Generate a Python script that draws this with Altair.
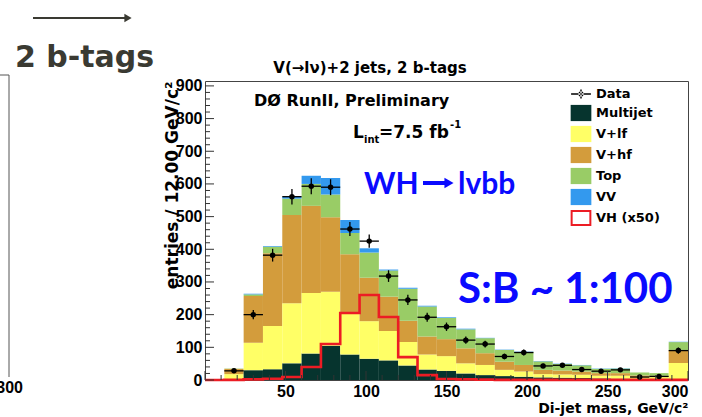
import altair as alt
import pandas as pd

# ---------------- data ----------------
bin_lo = [0, 12, 24, 36, 48, 60, 72, 84, 96, 108, 120, 132, 144, 156, 168,
          180, 192, 204, 216, 228, 240, 252, 264, 276, 288]
BIN_W = 12
multijet = [0, 0, 30, 33, 51, 81, 105, 78, 65, 60, 44, 32, 28, 20, 15, 12, 10, 8, 7, 6, 5, 4, 3, 3, 3]
v_lf     = [0, 18, 84, 132, 184, 185, 165, 125, 115, 90, 72, 46, 45, 31, 31, 19, 16, 10, 10, 10, 8, 9, 6, 6, 49]
v_hf     = [0, 16, 143, 223, 270, 267, 228, 182, 133, 105, 65, 55, 52, 46, 36, 25, 20, 13, 12, 10, 8, 8, 5, 4, 40]
top      = [0, 1, 5, 20, 50, 67, 70, 65, 77, 80, 98, 92, 65, 58, 46, 36, 40, 26, 20, 19, 13, 14, 9, 8, 24]
vv       = [0, 0, 2, 2, 6, 25, 50, 40, 13, 3, 3, 2, 2, 2, 1, 1, 1, 1, 1, 1, 1, 1, 0, 0, 1]
data_obs = [None, 28, 200, 382, 561, 593, 590, 462, 425, 318, 245, 192, 163, 122, 110, 72, 84, 43, 45, 32, 27, 31, 9, 11, 90]
vh_x50   = [0, 0.5, 2, 4, 9, 40, 110, 205, 260, 193, 70, 15, 3, 2, 1, 0.5, 0.5, 0.5, 0.5, 0.5, 0.5, 0.5, 0.5, 0.5, 0.5]

components = ["Multijet", "V+lf", "V+hf", "Top", "VV"]
comp_colors = ["#06342e", "#ffff66", "#d39c3c", "#99cc66", "#3399ee"]
VH_COLOR = "#ec1c24"
BLUE = "#0a0aff"

legend_names = ["Data"] + components + ["VH (x50)"]
legend_colors = ["#000000"] + comp_colors + [VH_COLOR]
RECT = "M-1.15,-0.9H1.15V0.9H-1.15Z"
HOLLOW = "M-1.15,-0.9H1.15V0.9H-1.15Z M-0.93,-0.68V0.68H0.93V-0.68Z"
CROSS = ("M-1.1,-0.08H1.1V0.08H-1.1Z M-0.08,-0.5H0.08V0.5H-0.08Z "
         "M-0.3,0A0.3,0.3,0,1,0,0.3,0A0.3,0.3,0,1,0,-0.3,0Z")
legend_shapes = [CROSS] + [RECT] * 5 + [HOLLOW]

x_major = [0, 50, 100, 150, 200, 250, 300]
x_minor = [10, 20, 30, 40, 60, 70, 80, 90, 110, 120, 130, 140, 160, 170, 180, 190,
           210, 220, 230, 240, 260, 270, 280, 290]
x_labels = [50, 100, 150, 200, 250, 300]
y_major = [0, 100, 200, 300, 400, 500, 600, 700, 800, 900]
y_minor = [20, 40, 60, 80, 120, 140, 160, 180, 220, 240, 260, 280, 320, 340, 360, 380,
           420, 440, 460, 480, 520, 540, 560, 580, 620, 640, 660, 680, 720, 740, 760, 780,
           820, 840, 860, 880]

# ---------------- tables ----------------
rows = []
for i, lo in enumerate(bin_lo):
    base = 0
    for name, vals in zip(components, [multijet, v_lf, v_hf, top, vv]):
        v = vals[i]
        if v > 0:
            rows.append({"lo": lo, "hi": lo + BIN_W, "component": name, "y0": base, "y1": base + v})
        base += v
df_stack = pd.DataFrame(rows)

drows = []
for lo, n in zip(bin_lo, data_obs):
    if n is None:
        continue
    e = n ** 0.5
    drows.append({"lo": lo, "hi": lo + BIN_W, "c": lo + BIN_W / 2, "n": n, "elo": n - e, "ehi": n + e})
df_data = pd.DataFrame(drows)

df_vh = pd.DataFrame({"x": bin_lo + [bin_lo[-1] + BIN_W], "y": vh_x50 + [vh_x50[-1]]})
df_leg = pd.DataFrame({"series": legend_names})
one = pd.DataFrame({"k": [0]})

# ---------------- scales / axes ----------------
LBL = "Liberation Sans"
TXT = "DejaVu Sans"
xs = alt.Scale(domain=[0, 300], nice=False, zero=False)
ys = alt.Scale(domain=[0, 915], nice=False)
x_axis = alt.Axis(values=x_labels, ticks=False, domain=False, grid=False,
                  labelFont=LBL, labelFontSize=16, labelFontWeight="bold", labelColor="black",
                  labelPadding=3, labelFlush=False,
                  labelAlign={"condition": {"test": "datum.value >= 300", "value": "right"}, "value": "center"},
                  title="Di-jet mass, GeV/c²", titleFont=TXT, titleFontSize=14, titleFontWeight="bold",
                  titleColor="black", titleAnchor="end", titleAlign="right", titleBaseline="alphabetic",
                  titleX=483, titleY=32)
y_axis = alt.Axis(values=y_major, ticks=False, domain=False, grid=False,
                  labelFont=LBL, labelFontSize=16, labelFontWeight="bold", labelColor="black",
                  labelPadding=3,
                  title="entries / 12.00 GeV/c²", titleFont=TXT, titleFontSize=17, titleFontWeight="bold",
                  titleColor="black", titleAngle=270, titleAlign="right", titleBaseline="alphabetic",
                  titleX=-28, titleY=0)

def X(field):
    return alt.X(field, type="quantitative", scale=xs, axis=x_axis)

def Y(field):
    return alt.Y(field, type="quantitative", scale=ys, axis=y_axis)

bars = alt.Chart(df_stack).mark_rect().encode(
    x=X("lo"), x2="hi", y=Y("y0"), y2="y1",
    fill=alt.Fill("component:N", scale=alt.Scale(domain=components, range=comp_colors), legend=None),
)

vh_line = alt.Chart(df_vh).mark_line(interpolate="step-after", color=VH_COLOR, strokeWidth=2.6).encode(
    x=X("x"), y=Y("y")
)

xerr = alt.Chart(df_data).mark_rule(color="black", strokeWidth=1.3).encode(x=X("lo"), x2="hi", y=Y("n"))
yerr = alt.Chart(df_data).mark_rule(color="black", strokeWidth=1.3).encode(x=X("c"), y=Y("elo"), y2="ehi")
pts = alt.Chart(df_data).mark_circle(color="black", size=30, opacity=1).encode(x=X("c"), y=Y("n"))

def xticks(vals, length):
    return alt.Chart(pd.DataFrame({"v": vals})).mark_rule(color="#333", strokeWidth=1).encode(
        x=X("v"), y=alt.value(299), y2=alt.value(299 - length))

def yticks(vals, length):
    return alt.Chart(pd.DataFrame({"v": vals})).mark_rule(color="#333", strokeWidth=1).encode(
        y=Y("v"), x=alt.value(0), x2=alt.value(length))

leg_spec = dict(title=None, orient="none", legendX=367, legendY=4, padding=0, rowPadding=3,
                symbolSize=324, symbolStrokeWidth=0, symbolOpacity=1,
                labelFont=TXT, labelFontSize=13, labelFontWeight="bold", labelColor="black",
                labelOffset=6)
legend_layer = alt.Chart(df_leg).mark_point(filled=True, opacity=1).encode(
    color=alt.Color("series:N", scale=alt.Scale(domain=legend_names, range=legend_colors),
                    legend=alt.Legend(**leg_spec)),
    shape=alt.Shape("series:N", scale=alt.Scale(domain=legend_names, range=legend_shapes),
                    legend=alt.Legend(**leg_spec)),
).transform_filter("false")

def txt(s, x, y, size, font=TXT, color="black", align="left", weight="bold"):
    return alt.Chart(one).mark_text(text=s, font=font, fontSize=size, fontWeight=weight, color=color,
                                    align=align, baseline="alphabetic").encode(
        x=alt.value(x), y=alt.value(y))

texts = [
    txt("V(→lν)+2 jets, 2 b-tags", 165, -8, 15, align="center"),
    txt("DØ RunII, Preliminary", 49, 25, 16),
    txt("L", 148, 57, 17),
    txt("int", 159, 62, 10),
    txt("=7.5 fb", 174, 57, 17),
    txt("-1", 245, 47, 10),
    txt("WH", 159, 113, 30, font="Lato", color=BLUE),
    txt("lvbb", 253, 113, 30, font="Lato", color=BLUE),
    txt("S:B ~ 1:100", 253, 222, 42, font="Lato", color=BLUE),
    txt("2 b-tags", -190, -14, 30, font=TXT, color="#3a3a32"),
    txt("300", -182, 312, 16, font=LBL, align="right"),
]

# decorative arrows (slide annotations)
arrow_line = alt.Chart(one).mark_rule(color="#3a3a32", strokeWidth=2.2).encode(
    x=alt.value(-172), x2=alt.value(-79), y=alt.value(-63))
arrow_head = alt.Chart(one).mark_point(shape="triangle-right", filled=True, color="#3a3a32",
                                       size=70, opacity=1).encode(x=alt.value(-77), y=alt.value(-63))
wh_arrow_line = alt.Chart(one).mark_rule(color=BLUE, strokeWidth=4).encode(
    x=alt.value(218), x2=alt.value(242), y=alt.value(102))
wh_arrow_head = alt.Chart(one).mark_point(shape="triangle-right", filled=True, color=BLUE,
                                          size=110, opacity=1).encode(x=alt.value(244), y=alt.value(102))
left_frame_v = alt.Chart(one).mark_rule(color="#555", strokeWidth=1).encode(
    x=alt.value(-196), y=alt.value(-6), y2=alt.value(296))
left_frame_h = alt.Chart(one).mark_rule(color="#555", strokeWidth=1).encode(
    x=alt.value(-205), x2=alt.value(-196), y=alt.value(-6))

chart = alt.layer(
    bars, vh_line, xerr, yerr, pts,
    xticks(x_major, 9), xticks(x_minor, 5), yticks(y_major, 9), yticks(y_minor, 5),
    legend_layer, *texts, arrow_line, arrow_head, wh_arrow_line, wh_arrow_head,
    left_frame_v, left_frame_h,
).properties(
    width=483, height=299,
    padding={"left": 205, "top": 81, "right": 14, "bottom": 37},
    autosize=alt.AutoSizeParams(type="none"),
    background="white",
).configure_view(stroke="#444", strokeWidth=1)

chart.save("out.html", embed_options={"renderer": "svg", "actions": False})
